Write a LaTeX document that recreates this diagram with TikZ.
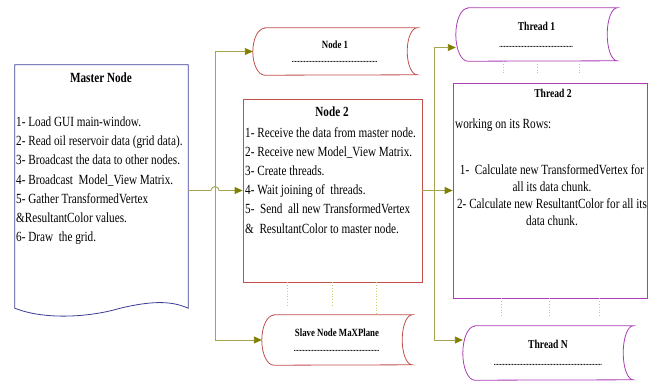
\documentclass[tikz,border=0pt]{standalone}
\usepackage{fontspec}
\setmainfont[FakeStretch=0.8]{Liberation Serif}
\usetikzlibrary{arrows.meta}
\definecolor{masterblue}{RGB}{60,60,150}
\definecolor{nodered}{RGB}{192,80,77}
\definecolor{threadpurple}{RGB}{170,60,180}
\definecolor{linkolive}{RGB}{165,165,80}
\definecolor{tipolive}{RGB}{128,128,0}
\definecolor{dotolive}{RGB}{200,200,110}
% outline of a stored-data node: node name, colour, half height
\newcommand\storedoutline[3]{%
  \draw[draw=#2, line width=0.8pt] ([xshift=12pt]#1.north west) -- (#1.north east)
    arc[start angle=90, end angle=270, x radius=10pt, y radius=#3]
    -- ([xshift=12pt]#1.south west)
    arc[start angle=270, end angle=90, x radius=12pt, y radius=#3] -- cycle;}
\newcommand\dotline[1]{{\fontsize{8}{8}\selectfont\bfseries\makebox[#1]{\leaders\hbox to 1.5pt{\hss.\hss}\hfill}}}
\begin{document}
\begin{tikzpicture}[
    x=1pt, y=1pt,
    link/.style={draw=linkolive, line width=0.9pt},
    arrow link/.style={link, -{Triangle[length=8pt,width=7pt,color=tipolive]}},
    dotted link/.style={draw=dotolive, dotted, line width=0.8pt},
    plain box/.style={draw=#1, line width=0.8pt, inner sep=0pt},
    stored/.style={inner sep=0pt, align=center, font=\fontsize{11}{13}\selectfont\bfseries},
    thread stored/.style={stored, font=\fontsize{12}{14}\selectfont\bfseries},
    title/.style={inner sep=0pt, font=\fontsize{14}{16}\selectfont\bfseries},
    body/.style={inner sep=0pt, align=left, font=\fontsize{14}{19.2}\selectfont},
    ]
\useasboundingbox (0,0) rectangle (656,-381);
% master node
\node (master) [inner sep=0pt, minimum width=173pt, minimum height=243pt] at (101.5,-186.5) {};
\draw[draw=masterblue, line width=0.8pt] (master.south west) -- (master.north west)
  -- (master.north east) -- (master.south east)
  .. controls +(-18,8) and +(30,7) .. ([xshift=-68pt]master.south east)
  .. controls +(-30,-9) and +(30,-12) .. (master.south west) -- cycle;
\node (master title) [title] at (101,-78) {Master Node};
\node (master body) [body, anchor=north west] at (16,-116.5) {1- Load GUI main-window.\\
2- Read oil reservoir data (grid data).\\
3- Broadcast the data to other nodes.\\
4- Broadcast~ Model\_View Matrix.\\
5- Gather TransformedVertex\\
\&ResultantColor values.\\
6- Draw~ the grid.};
% slave nodes
\node (node1) [stored, minimum width=164pt, minimum height=47pt] at (335,-51.5) {Node 1\\[1.5pt]\dotline{86pt}};
\storedoutline{node1}{nodered}{23.5pt}
\node (node2) [plain box=nodered, minimum width=179pt, minimum height=183pt] at (332.5,-190.5) {};
\node (node2 title) [title] at (332,-112) {Node 2};
\node (node2 body) [body, anchor=north west] at (245,-127) {1- Receive the data from master node.\\
2- Receive new Model\_View Matrix.\\
3- Create threads.\\
4- Wait joining of~ threads.\\
5-~ Send~ all new TransformedVertex\\
\&~ ResultantColor to master node.};
\node (slave) [stored, minimum width=150pt, minimum height=50pt] at (337,-340) {Slave Node MaXPlane\\[1.5pt]\dotline{86pt}};
\storedoutline{slave}{nodered}{25pt}
% threads
\node (thread1) [thread stored, minimum width=161pt, minimum height=53pt] at (536.5,-34.5) {Thread 1\\[3pt]\dotline{74pt}};
\storedoutline{thread1}{threadpurple}{26.5pt}
\node (thread2) [plain box=threadpurple, minimum width=194pt, minimum height=215pt] at (550,-190.5) {};
\node (thread2 title) [thread stored] at (553,-93) {Thread 2};
\node (thread2 rows) [body, anchor=west] at (455,-125) {working on its Rows:};
\node (thread2 body) [body, align=center, font=\fontsize{14}{17}\selectfont] at (552,-195.5) {1-~ Calculate new TransformedVertex for\\
all its data chunk.\\
2- Calculate new ResultantColor for all its\\
data chunk.};
\node (threadN) [thread stored, minimum width=170pt, minimum height=54pt] at (548,-353) {Thread N\\[3pt]\dotline{108pt}};
\storedoutline{threadN}{threadpurple}{27pt}
% connectors
\coordinate (split) at (215,-190.5);
\coordinate (fork) at (434,-190.5);
\draw[arrow link] ([yshift=-4pt]master.east) -- ([xshift=-4pt]split)
  arc[start angle=180, end angle=0, radius=4pt] -- (node2.west);
\draw[arrow link] (split) |- (node1.west);
\draw[arrow link] (split) |- (slave.west);
\draw[link] (node2.east) -- (fork);
\draw[arrow link] (fork) -- (thread2.west);
\draw[arrow link] (fork) |- ([yshift=-13pt]thread1.west);
\draw[arrow link] (fork) |- ([yshift=13pt]threadN.west);
% dotted ties
\foreach \dx/\len in {-45/25, 0/25, 44/33}
  \draw[dotted link] ([xshift=\dx pt]node2.south) -- ++(0,-\len);
\foreach \dx in {-33.5, 0.5, 42.5}
  \draw[dotted link] ([xshift=\dx pt]thread1.south) -- ++(0,-12);
\foreach \dx in {-49, -1, 49}
  \draw[dotted link] ([xshift=\dx pt]thread2.south) -- ++(0,-17);
\end{tikzpicture}
\end{document}
